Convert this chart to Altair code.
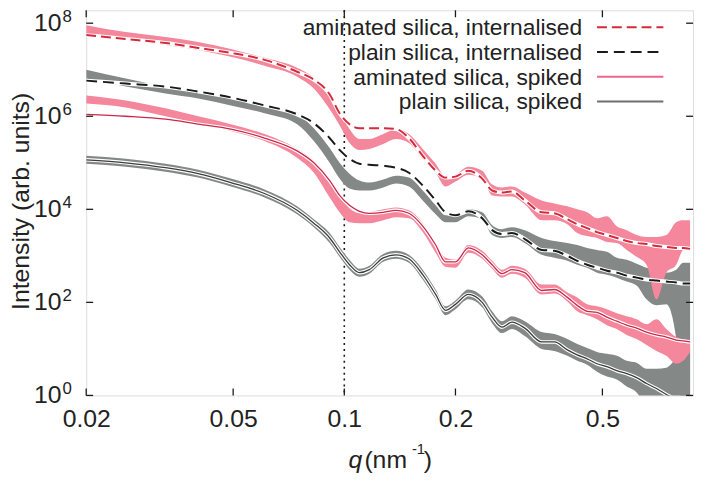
import altair as alt
import pandas as pd

# ---------------- data ----------------
Q = [0.0200, 0.0256, 0.0328, 0.0402, 0.0493, 0.0608, 0.0745, 0.0827, 0.0913, 0.0971,
     0.1033, 0.1099, 0.1169, 0.1275, 0.1381, 0.1496, 0.1631, 0.1768, 0.1880, 0.2000,
     0.2168, 0.2363, 0.2514, 0.2673, 0.2843, 0.3082, 0.3423, 0.3708, 0.4018, 0.4274,
     0.4546, 0.4835, 0.5144, 0.5470, 0.5818, 0.6189, 0.6584, 0.7004, 0.7450, 0.7924,
     0.8272, 0.8638]

# aminated silica, internalised
A_FIT = [5.55e7, 4.57e7, 3.75e7, 2.94e7, 2.30e7, 1.63e7, 9.06e6, 6.12e6, 2.94e6, 1.16e6,
         6.76e5, 5.55e5, 5.55e5, 5.55e5, 5.29e5, 3.40e5, 1.41e5, 6.76e4, 4.80e4, 5.04e4,
         6.76e4, 4.57e4, 2.54e4, 2.30e4, 2.42e4, 1.55e4, 8.63e3, 8.22e3, 6.12e3, 4.80e3,
         3.94e3, 3.24e3, 2.80e3, 2.42e3, 2.08e3, 1.89e3, 1.80e3, 1.63e3, 1.55e3, 1.48e3,
         1.48e3, 1.41e3]
A_HI = [9.06e7, 6.44e7, 5.04e7, 3.94e7, 2.80e7, 1.80e7, 1.10e7, 6.76e6, 2.80e6, 1.28e6,
        5.29e5, 3.24e5, 3.24e5, 4.14e5, 5.29e5, 4.14e5, 1.99e5, 9.53e4, 5.04e4, 5.55e4,
        8.22e4, 6.76e4, 3.40e4, 2.94e4, 3.09e4, 2.30e4, 1.55e4, 1.34e4, 1.16e4, 1.0e4,
        8.63e3, 6.44e3, 7.10e3, 4.35e3, 3.57e3, 2.80e3, 2.54e3, 2.54e3, 2.80e3, 5.29e3,
        5.83e3, 5.83e3]
A_LO = [5.83e7, 4.35e7, 3.40e7, 2.67e7, 1.89e7, 1.22e7, 7.10e6, 3.94e6, 1.41e6, 6.44e5,
        2.67e5, 1.89e5, 1.99e5, 2.54e5, 3.24e5, 2.67e5, 1.22e5, 6.12e4, 3.09e4, 3.94e4,
        5.55e4, 4.57e4, 1.99e4, 1.89e4, 1.89e4, 1.28e4, 5.83e3, 5.83e3, 4.80e3, 3.09e3,
        2.67e3, 2.42e3, 1.99e3, 1.89e3, 1.34e3, 953, 644, 116, 435, 644,
        1.34e3, 1.48e3]

# plain silica, internalised
B_FIT = [5.83e6, 5.04e6, 4.35e6, 3.40e6, 2.54e6, 1.71e6, 1.10e6, 7.10e5, 3.40e5, 1.89e5,
         1.22e5, 9.53e4, 9.06e4, 8.63e4, 7.83e4, 6.12e4, 3.24e4, 1.55e4, 8.63e3, 7.45e3,
         9.06e3, 6.44e3, 3.57e3, 2.94e3, 3.09e3, 2.30e3, 1.34e3, 1.28e3, 1.0e3, 783,
         644, 555, 480, 435, 375, 340, 309, 294, 280, 267,
         254, 254]
B_HI = [1.0e7, 6.44e6, 4.35e6, 3.40e6, 2.42e6, 1.71e6, 1.10e6, 5.55e5, 2.08e5, 1.0e5,
        5.83e4, 4.14e4, 3.75e4, 4.35e4, 5.29e4, 4.80e4, 2.54e4, 1.22e4, 7.45e3, 7.45e3,
        1.0e4, 8.63e3, 4.57e3, 3.75e3, 4.14e3, 3.57e3, 2.42e3, 2.08e3, 1.89e3, 1.71e3,
        1.48e3, 1.34e3, 1.22e3, 906, 822, 676, 555, 504, 435, 504,
        710, 710]
B_LO = [6.44e6, 4.35e6, 3.09e6, 2.42e6, 1.71e6, 1.16e6, 6.76e5, 2.94e5, 1.0e5, 4.57e4,
        2.80e4, 2.54e4, 2.54e4, 2.94e4, 3.57e4, 3.09e4, 1.55e4, 7.83e3, 5.29e3, 5.29e3,
        7.10e3, 6.12e3, 2.80e3, 2.42e3, 2.54e3, 1.89e3, 1.05e3, 906, 783, 644,
        555, 435, 394, 340, 280, 230, 116, 86.3, 90.6, 16.3,
        0.3, 0.3]

# aminated silica, spiked
C_FIT = [1.10e6, 1.0e6, 8.63e5, 6.76e5, 5.29e5, 3.40e5, 1.80e5, 1.0e5, 4.14e4, 1.99e4,
         1.22e4, 9.06e3, 8.22e3, 8.63e3, 9.53e3, 8.22e3, 4.35e3, 1.71e3, 745, 745,
         1.48e3, 1.05e3, 644, 414, 504, 435, 180, 189, 128, 86.3,
         64.4, 61.2, 48.0, 39.4, 32.4, 28.0, 23.0, 19.9, 18.0, 15.5,
         14.8, 14.1]
C_HI = [2.80e6, 2.19e6, 1.48e6, 1.0e6, 6.76e5, 4.14e5, 1.99e5, 1.10e5, 4.14e4, 1.99e4,
        1.05e4, 8.22e3, 8.63e3, 1.0e4, 1.10e4, 9.53e3, 5.04e3, 1.89e3, 906, 822,
        1.71e3, 1.28e3, 783, 504, 612, 529, 242, 242, 163, 128,
        90.6, 82.2, 71.0, 58.3, 50.4, 43.5, 34.0, 43.5, 26.7, 18.0,
        16.3, 15.5]
C_LO = [1.89e6, 1.55e6, 1.0e6, 7.10e5, 4.80e5, 2.94e5, 1.28e5, 6.12e4, 1.80e4, 8.63e3,
        5.29e3, 5.04e3, 5.04e3, 5.83e3, 6.76e3, 6.44e3, 3.24e3, 1.16e3, 583, 555,
        1.16e3, 863, 529, 340, 414, 340, 148, 155, 105, 64.4,
        52.9, 43.5, 32.4, 26.7, 19.9, 16.3, 12.2, 9.06, 7.10, 4.80,
        5.55, 8.63]

# plain silica, spiked
D_FIT = [1.16e5, 1.0e5, 7.83e4, 5.83e4, 3.75e4, 2.19e4, 9.53e3, 5.04e3, 2.42e3, 1.22e3,
         644, 435, 504, 906, 1.05e3, 863, 394, 148, 67.6, 90.6,
         148, 100, 48.0, 29.4, 37.5, 28.0, 14.1, 14.1, 9.53, 7.45,
         6.12, 4.80, 4.14, 3.40, 2.94, 2.42, 1.80, 1.41, 1.05, 0.82,
         0.71, 0.61]
D_HI = [1.41e5, 1.22e5, 9.53e4, 7.10e4, 4.57e4, 2.67e4, 1.16e4, 6.12e3, 3.09e3, 1.55e3,
        822, 529, 612, 1.10e3, 1.28e3, 1.05e3, 504, 189, 82.2, 110,
        189, 134, 64.4, 39.4, 50.4, 39.4, 23.0, 20.8, 16.3, 12.8,
        10.5, 8.63, 7.83, 7.10, 5.55, 5.04, 3.75, 3.75, 3.94, 6.12,
        7.83, 10.0]
D_LO = [9.53e4, 8.22e4, 6.44e4, 4.80e4, 3.09e4, 1.80e4, 7.83e3, 4.14e3, 1.89e3, 953,
        504, 357, 414, 745, 863, 710, 309, 116, 52.9, 71.0,
        116, 78.3, 35.7, 21.9, 26.7, 18.9, 10.0, 9.06, 7.10, 5.55,
        4.57, 3.24, 2.54, 2.19, 1.55, 1.16, 0.53, 0.3, 0.3, 0.3,
        0.3, 0.3]

X_TICKS = [0.02, 0.05, 0.1, 0.2, 0.5]
Y_TICKS = [1, 1e2, 1e4, 1e6, 1e8]
Y_EXPS = ["0", "2", "4", "6", "8"]
LEGEND = ["aminated silica, internalised", "plain silica, internalised",
          "aminated silica, spiked", "plain silica, spiked"]

# ---------------- styling ----------------
W, H = 613, 389
FONT = "Liberation Sans"
PINK = "#f4879c"
GRAY = "#848886"
RED = "#d42a3a"
BLACK = "#1a1a1a"
CRIMSON = "#c8284a"
DGRAY = "#3c3c3c"
TXT = "#222222"

xs = alt.Scale(type="log", domain=[0.02, 0.88], nice=False)
ys = alt.Scale(type="log", domain=[1, 1.89e8], nice=False)
xaxis = alt.Axis(values=X_TICKS, format=".2~f", ticks=False, domain=False, grid=False,
                 title=None, labelFontSize=25, labelFont=FONT, labelColor=TXT,
                 labelPadding=11, labelOverlap=False, labelFlush=False)
yaxis = alt.Axis(values=Y_TICKS, labels=False, ticks=False, domain=False, grid=False,
                 title=None)


def band(lo, hi, color):
    df = pd.DataFrame({"q": Q, "lo": lo, "hi": hi})
    return alt.Chart(df).mark_area(color=color, opacity=1, clip=True,
                                   interpolate="monotone").encode(
        x=alt.X("q:Q", scale=xs, axis=xaxis),
        y=alt.Y("lo:Q", scale=ys, axis=yaxis),
        y2="hi:Q")


def fit(vals, color, width, casing, dash=None):
    df = pd.DataFrame({"q": Q, "I": vals})
    base = alt.Chart(df).encode(
        x=alt.X("q:Q", scale=xs, axis=xaxis),
        y=alt.Y("I:Q", scale=ys, axis=yaxis))
    under = base.mark_line(color="white", strokeWidth=casing, clip=True,
                           interpolate="monotone")
    kw = dict(color=color, strokeWidth=width, clip=True, interpolate="monotone")
    if dash:
        kw["strokeDash"] = dash
    return under + base.mark_line(**kw)


# dotted line at q = 0.1
vline = alt.Chart(pd.DataFrame({"q": [0.1]})).mark_rule(
    color=BLACK, strokeWidth=1.6, strokeDash=[2, 4]).encode(
    x=alt.X("q:Q", scale=xs, axis=xaxis))

bands = (band(B_LO, B_HI, GRAY) + band(D_LO, D_HI, GRAY)
         + band(A_LO, A_HI, PINK) + band(C_LO, C_HI, PINK))

fits = (fit(D_FIT, DGRAY, 1.3, 3.6) + fit(C_FIT, CRIMSON, 1.3, 3.6)
        + fit(B_FIT, BLACK, 2.0, 4.0, [11, 6]) + fit(A_FIT, RED, 2.0, 4.0, [10, 5]))

# inward ticks (gnuplot style, mirrored)
xt = pd.DataFrame({"q": X_TICKS})
yt = pd.DataFrame({"v": Y_TICKS, "e": Y_EXPS})
xtick_b = alt.Chart(xt).mark_rule(color=BLACK, strokeWidth=1.3).encode(
    x=alt.X("q:Q", scale=xs, axis=xaxis), y=alt.value(H), y2=alt.value(H - 7))
xtick_t = alt.Chart(xt).mark_rule(color=BLACK, strokeWidth=1.3).encode(
    x=alt.X("q:Q", scale=xs, axis=xaxis), y=alt.value(0), y2=alt.value(7))
ytick_l = alt.Chart(yt).mark_rule(color=BLACK, strokeWidth=1.3).encode(
    y=alt.Y("v:Q", scale=ys, axis=yaxis), x=alt.value(0), x2=alt.value(7))
ytick_r = alt.Chart(yt).mark_rule(color=BLACK, strokeWidth=1.3).encode(
    y=alt.Y("v:Q", scale=ys, axis=yaxis), x=alt.value(W - 7), x2=alt.value(W))

# y tick labels 10^n
ylab_base = alt.Chart(yt).mark_text(align="right", baseline="alphabetic", dy=8,
                                    fontSize=25, font=FONT, color=TXT).encode(
    y=alt.Y("v:Q", scale=ys, axis=yaxis), x=alt.value(-25), text=alt.value("10"))
ylab_exp = alt.Chart(yt).mark_text(align="left", baseline="alphabetic", dy=-1,
                                   fontSize=17, font=FONT, color=TXT).encode(
    y=alt.Y("v:Q", scale=ys, axis=yaxis), x=alt.value(-24), text="e:N")

one = pd.DataFrame({"k": [0]})


def label(txt, x, y, size=25, align="left", angle=0, style="normal"):
    return alt.Chart(one).mark_text(text=txt, align=align, baseline="alphabetic",
                                    fontSize=size, font=FONT, color=TXT, angle=angle,
                                    fontStyle=style).encode(
        x=alt.value(x), y=alt.value(y))


titles = (label("Intensity (arb. units)", -58, 193, align="center", angle=270)
          + label("q", 265, 462, style="italic")
          + label("(nm", 281, 462)
          + label("-1", 329, 448, size=15)
          + label(")", 341, 462))

# legend (text left, sample line right)
leg_y = [25, 50, 75, 100]
leg_line_y = [17, 42, 67, 92]
leg_style = [(RED, [10, 5], 2.0), (BLACK, [11, 6], 2.0), ("#ef6688", None, 2.0),
             ("#6e6e6e", None, 2.0)]
legend = None
for txt, ty, ly, (col, dash, sw) in zip(LEGEND, leg_y, leg_line_y, leg_style):
    t = label(txt, 501, ty, size=23, align="right")
    kw = dict(color=col, strokeWidth=sw)
    if dash:
        kw["strokeDash"] = dash
    ln = alt.Chart(one).mark_rule(**kw).encode(
        x=alt.value(516), x2=alt.value(583), y=alt.value(ly))
    legend = (t + ln) if legend is None else (legend + t + ln)

chart = alt.layer(
    vline, bands, fits, xtick_b, xtick_t, ytick_l, ytick_r,
    ylab_base, ylab_exp, titles, legend
).properties(
    width=W, height=H,
    padding={"left": 79, "top": 0, "right": 5, "bottom": 76},
    autosize=alt.AutoSizeParams(type="none"),
).configure_view(
    stroke=BLACK, strokeWidth=1.5
).configure(font=FONT, background="white")

chart.save("out.html", embed_options={"renderer": "svg", "actions": False})
